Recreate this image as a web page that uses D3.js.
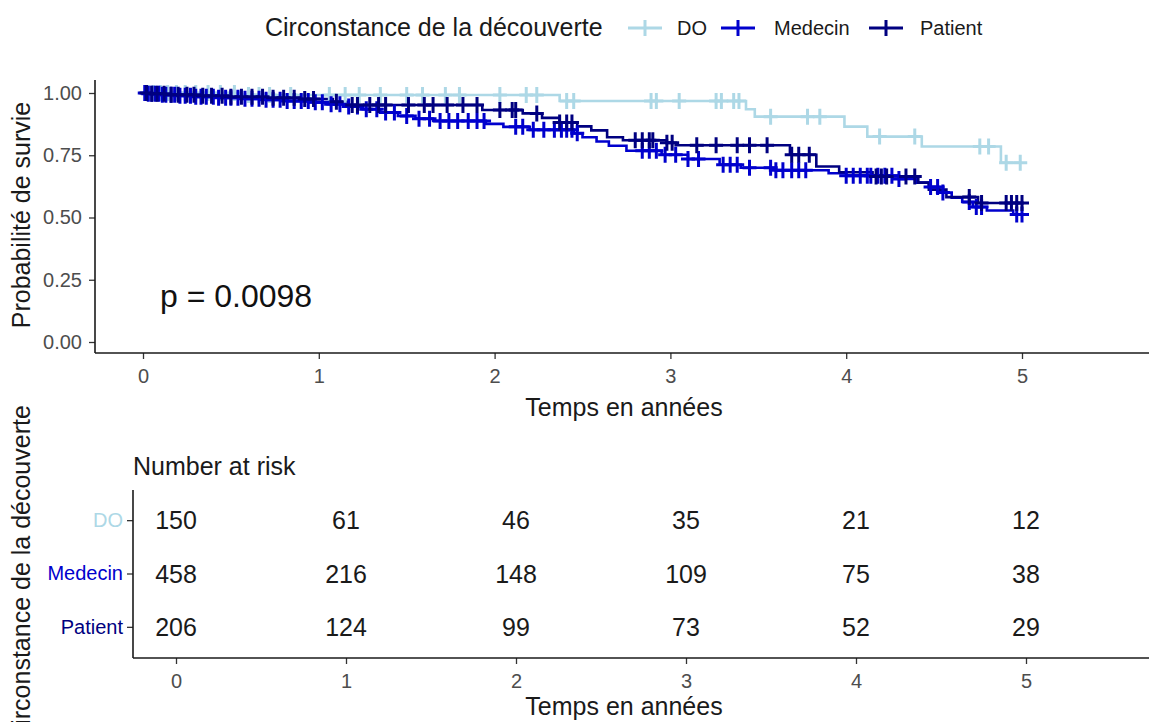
<!DOCTYPE html>
<html>
<head>
<meta charset="utf-8">
<script src="https://cdn.jsdelivr.net/npm/d3@7"></script>
<style>
  body { margin: 0; background: #fff; }
  text { font-family: "Liberation Sans", Arial, sans-serif; }
</style>
</head>
<body>
<script>
// Strata and their colours
const groups = ["DO", "Medecin", "Patient"];
const groupColors = ["#ADD8E6", "#0000CD", "#000080"];

// Axis ticks
const timeTicks = [0, 1, 2, 3, 4, 5];
const survTicks = [0, 0.25, 0.5, 0.75, 1];

// Kaplan-Meier estimates: event times (years) and survival after each step
const doTimes = [0.55, 2.37, 3.43, 3.48, 3.99, 4.12, 4.43, 4.88];
const doSurv  = [0.992, 0.968, 0.935, 0.905, 0.865, 0.825, 0.785, 0.72];
const doCensor = [0.03, 0.06, 0.1, 0.14, 0.19, 0.24, 0.3, 0.37, 0.44, 0.52, 0.6, 0.66, 0.72,
  0.84, 1.06, 1.15, 1.23, 1.35, 1.5, 1.59, 1.72, 1.8, 2.03, 2.18, 2.24, 2.41, 2.45, 2.89, 2.92,
  3.05, 3.26, 3.29, 3.36, 3.39, 3.57, 3.78, 3.85, 4.19, 4.39, 4.76, 4.81, 4.91, 4.99];

const medTimes = [0.02, 0.1, 0.2, 0.3, 0.42, 0.55, 0.68, 0.82, 0.95, 1.05, 1.15, 1.25, 1.35,
  1.45, 1.55, 1.65, 1.95, 2.05, 2.2, 2.45, 2.5, 2.58, 2.65, 2.75, 2.95, 3.1, 3.28, 3.4, 3.6,
  3.9, 4.0, 4.3, 4.4, 4.47, 4.53, 4.6, 4.66, 4.72, 4.8, 4.95];
const medSurv  = [0.997, 0.993, 0.989, 0.985, 0.981, 0.977, 0.973, 0.968, 0.963, 0.955, 0.946,
  0.935, 0.922, 0.908, 0.897, 0.888, 0.876, 0.864, 0.852, 0.838, 0.822, 0.805, 0.788, 0.768,
  0.752, 0.735, 0.712, 0.700, 0.690, 0.678, 0.668, 0.655, 0.640, 0.622, 0.600, 0.580, 0.562,
  0.542, 0.528, 0.512];
const medCensor = [0.01, 0.03, 0.05, 0.07, 0.09, 0.11, 0.13, 0.16, 0.18, 0.21, 0.24, 0.27, 0.3,
  0.33, 0.36, 0.4, 0.43, 0.47, 0.5, 0.54, 0.58, 0.62, 0.66, 0.7, 0.74, 0.78, 0.82, 0.86, 0.9,
  0.94, 0.98, 1.02, 1.07, 1.12, 1.17, 1.22, 1.27, 1.33, 1.38, 1.43, 1.5, 1.57, 1.63, 1.69, 1.74,
  1.79, 1.85, 1.9, 1.94, 2.12, 2.16, 2.22, 2.28, 2.34, 2.38, 2.41, 2.44, 2.47, 2.84, 2.88, 2.92,
  2.97, 3.03, 3.1, 3.16, 3.3, 3.34, 3.38, 3.45, 3.57, 3.6, 3.64, 3.69, 3.73, 3.77, 4.0, 4.04,
  4.08, 4.12, 4.14, 4.18, 4.22, 4.26, 4.3, 4.48, 4.52, 4.55, 4.7, 4.74, 4.77, 4.97, 5.0];

const patTimes = [0.03, 0.15, 0.3, 0.5, 0.7, 0.9, 1.08, 1.17, 1.93, 2.16, 2.27, 2.37, 2.47,
  2.55, 2.64, 2.73, 2.98, 3.03, 3.68, 3.83, 3.96, 4.15, 4.41, 4.47, 4.57, 4.75];
const patSurv  = [0.997, 0.993, 0.989, 0.985, 0.981, 0.976, 0.965, 0.952, 0.932, 0.918, 0.900,
  0.882, 0.866, 0.850, 0.822, 0.810, 0.800, 0.790, 0.752, 0.705, 0.682, 0.665, 0.640, 0.612,
  0.582, 0.558];
const patCensor = [0.02, 0.05, 0.08, 0.12, 0.16, 0.2, 0.25, 0.29, 0.34, 0.39, 0.45, 0.5, 0.56,
  0.62, 0.68, 0.74, 0.8, 0.86, 0.92, 0.97, 1.1, 1.19, 1.22, 1.29, 1.34, 1.38, 1.51, 1.6, 1.65,
  1.73, 1.82, 1.9, 2.03, 2.1, 2.12, 2.24, 2.37, 2.41, 2.44, 2.8, 2.84, 2.88, 2.9, 2.98, 3.01,
  3.15, 3.26, 3.38, 3.45, 3.55, 3.69, 3.73, 3.79, 4.17, 4.2, 4.23, 4.34, 4.39, 4.7, 4.77, 4.91,
  4.94, 4.97, 5.0];

// Number at risk at each time tick
const riskDO  = [150, 61, 46, 35, 21, 12];
const riskMed = [458, 216, 148, 109, 75, 38];
const riskPat = [206, 124, 99, 73, 52, 29];

const pValueLabel = "p = 0.0098";

const strata = [
  { name: groups[0], color: groupColors[0], times: doTimes,  surv: doSurv,  censor: doCensor,  risk: riskDO },
  { name: groups[1], color: groupColors[1], times: medTimes, surv: medSurv, censor: medCensor, risk: riskMed },
  { name: groups[2], color: groupColors[2], times: patTimes, surv: patSurv, censor: patCensor, risk: riskPat }
];

const W = 1149, H = 722;
const FONT_TITLE = 25, FONT_TICK = 20;
const svg = d3.select("body").append("svg").attr("width", W).attr("height", H);

// ---------- Survival panel ----------
const panel = { left: 95, top: 80, bottom: 353, right: W };
const x = d3.scaleLinear().domain([0, 5]).range([143, 1022]);
const y = d3.scaleLinear().domain([0, 1]).range([342, 93]);

function survAt(s, t) {
  let v = 1;
  for (let i = 0; i < s.times.length; i++) if (s.times[i] <= t) v = s.surv[i];
  return v;
}

const stepLine = d3.line().x(d => x(d[0])).y(d => y(d[1])).curve(d3.curveStepAfter);
const plot = svg.append("g");

strata.forEach(s => {
  const tEnd = Math.max(s.times[s.times.length - 1], s.censor[s.censor.length - 1]);
  const pts = [[0, 1]].concat(s.times.map((t, i) => [t, s.surv[i]]));
  pts.push([tEnd, s.surv[s.surv.length - 1]]);
  plot.append("path").attr("d", stepLine(pts))
    .attr("fill", "none").attr("stroke", s.color).attr("stroke-width", 2.6);
});

// censoring marks
const plusPath = "M-7,0H7M0,-8V8";
strata.forEach(s => {
  plot.append("g").selectAll("path").data(s.censor).join("path")
    .attr("d", plusPath)
    .attr("transform", t => `translate(${x(t)},${y(survAt(s, t))})`)
    .attr("fill", "none").attr("stroke", s.color).attr("stroke-width", 3);
});

// axes
const xAxisTop = svg.append("g").attr("transform", `translate(0,${panel.bottom})`)
  .call(d3.axisBottom(x).tickValues(timeTicks).tickFormat(d3.format("d")).tickSize(6).tickPadding(10));
const yAxisTop = svg.append("g").attr("transform", `translate(${panel.left},0)`)
  .call(d3.axisLeft(y).tickValues(survTicks).tickFormat(d3.format(".2f")).tickSize(6).tickPadding(7));

[xAxisTop, yAxisTop].forEach(a => {
  a.select(".domain").remove();
  a.selectAll(".tick line").attr("stroke", "#333").attr("stroke-width", 1.3);
  a.selectAll(".tick text").attr("fill", "#4d4d4d").attr("font-size", FONT_TICK)
    .style("font-family", "'Liberation Sans', Arial, sans-serif");
});
svg.append("line").attr("x1", panel.left).attr("x2", panel.right)
  .attr("y1", panel.bottom).attr("y2", panel.bottom).attr("stroke", "#1a1a1a").attr("stroke-width", 1.6);
svg.append("line").attr("x1", panel.left).attr("x2", panel.left)
  .attr("y1", panel.top).attr("y2", panel.bottom).attr("stroke", "#1a1a1a").attr("stroke-width", 1.6);

svg.append("text").attr("x", 624).attr("y", 416).attr("text-anchor", "middle")
  .attr("font-size", FONT_TITLE).attr("fill", "#1a1a1a").text("Temps en années");
svg.append("text").attr("transform", "translate(30,215) rotate(-90)").attr("text-anchor", "middle")
  .attr("font-size", FONT_TITLE).attr("fill", "#1a1a1a").text("Probabilité de survie");

svg.append("text").attr("x", 160).attr("y", 307).attr("font-size", 32).attr("fill", "#111")
  .text(pValueLabel);

// ---------- Legend ----------
const legend = svg.append("g");
legend.append("text").attr("x", 265).attr("y", 36).attr("font-size", FONT_TITLE)
  .attr("fill", "#1a1a1a").text("Circonstance de la découverte");
const keyX = [645, 738, 886], labelX = [677, 774, 920];
strata.forEach((s, i) => {
  const g = legend.append("g").attr("transform", `translate(${keyX[i]},28)`);
  g.append("path").attr("d", "M-17,0H17M0,-8V8").attr("fill", "none")
    .attr("stroke", s.color).attr("stroke-width", 3);
  legend.append("text").attr("x", labelX[i]).attr("y", 35).attr("font-size", FONT_TICK)
    .attr("fill", "#1a1a1a").text(s.name);
});

// ---------- Number at risk table ----------
const table = { left: 133, top: 490, bottom: 658, right: W };
const xr = d3.scaleLinear().domain([0, 5]).range([176, 1026]);
const yr = d3.scaleBand().domain(groups).range([494, 654]).padding(0);

svg.append("text").attr("x", 133).attr("y", 475).attr("font-size", FONT_TITLE)
  .attr("fill", "#1a1a1a").text("Number at risk");

strata.forEach(s => {
  svg.append("g").selectAll("text").data(s.risk).join("text")
    .attr("x", (d, i) => xr(timeTicks[i]))
    .attr("y", yr(s.name) + yr.bandwidth() / 2)
    .attr("dy", "0.35em").attr("text-anchor", "middle")
    .attr("font-size", 25).attr("fill", "#1a1a1a").text(d => d);
});

const xAxisTab = svg.append("g").attr("transform", `translate(0,${table.bottom})`)
  .call(d3.axisBottom(xr).tickValues(timeTicks).tickFormat(d3.format("d")).tickSize(6).tickPadding(10));
const yAxisTab = svg.append("g").attr("transform", `translate(${table.left},0)`)
  .call(d3.axisLeft(yr).tickSize(6).tickPadding(4));
[xAxisTab, yAxisTab].forEach(a => {
  a.select(".domain").remove();
  a.selectAll(".tick line").attr("stroke", "#333").attr("stroke-width", 1.3);
  a.selectAll(".tick text").attr("font-size", FONT_TICK)
    .style("font-family", "'Liberation Sans', Arial, sans-serif");
});
xAxisTab.selectAll(".tick text").attr("fill", "#4d4d4d");
yAxisTab.selectAll(".tick text").attr("fill", d => groupColors[groups.indexOf(d)]);

svg.append("line").attr("x1", table.left).attr("x2", table.right)
  .attr("y1", table.bottom).attr("y2", table.bottom).attr("stroke", "#1a1a1a").attr("stroke-width", 1.6);
svg.append("line").attr("x1", table.left).attr("x2", table.left)
  .attr("y1", table.top).attr("y2", table.bottom).attr("stroke", "#1a1a1a").attr("stroke-width", 1.6);

svg.append("text").attr("x", 624).attr("y", 715).attr("text-anchor", "middle")
  .attr("font-size", FONT_TITLE).attr("fill", "#1a1a1a").text("Temps en années");
svg.append("text").attr("transform", "translate(30,574) rotate(-90)").attr("text-anchor", "middle")
  .attr("font-size", FONT_TITLE).attr("fill", "#1a1a1a").text("Circonstance de la découverte");
</script>
</body>
</html>
